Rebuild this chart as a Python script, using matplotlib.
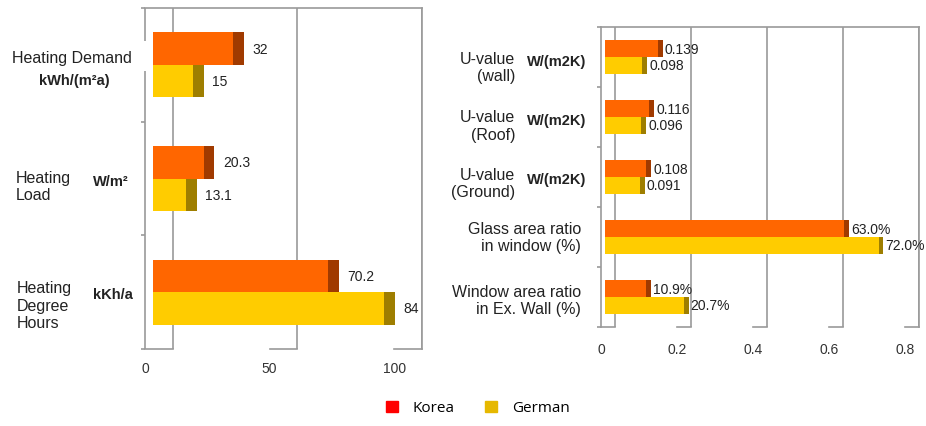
import matplotlib
matplotlib.use("Agg")
import matplotlib.pyplot as plt
from matplotlib.patches import Patch

# --- data -------------------------------------------------------------
left_names = ["Heating Demand", "Heating\nLoad", "Heating\nDegree\nHours"]
left_units = ["kWh/(m²a)", "W/m²", "kKh/a"]
korea_left = [32, 20.3, 70.2]
german_left = [16, 13.1, 92.7]          # bar lengths as drawn on the axis
korea_left_txt = ["32", "20.3", "70.2"]
german_left_txt = ["15", "13.1", "84"]  # labels as printed
left_ticks = [0, 50, 100]

right_names = ["U-value\n(wall)", "U-value\n(Roof)", "U-value\n(Ground)",
               "Glass area ratio\nin window (%)", "Window area ratio\nin Ex. Wall (%)"]
right_units = ["W/(m2K)", "W/(m2K)", "W/(m2K)", "", ""]
korea_right = [0.139, 0.116, 0.108, 0.630, 0.109]
german_right = [0.098, 0.096, 0.091, 0.720, 0.207]
korea_right_txt = ["0.139", "0.116", "0.108", "63.0%", "10.9%"]
german_right_txt = ["0.098", "0.096", "0.091", "72.0%", "20.7%"]
right_ticks = [0, 0.2, 0.4, 0.6, 0.8]

# --- style ------------------------------------------------------------
ORANGE = "#FF6600"
ORANGE_DARK = "#A03A00"
YELLOW = "#FFCC00"
YELLOW_DARK = "#9E7E00"
GRID = "#9a9a9a"

W, H = 926, 427
plt.rcParams['font.family'] = ['Liberation Sans', 'DejaVu Sans']
fig = plt.figure(figsize=(W / 100, H / 100), dpi=100)


def px_box(x0, y0, x1, y1):
    return [x0 / W, 1 - y1 / H, (x1 - x0) / W, (y1 - y0) / H]


def draw_panel(ax, korea, german, k_txt, g_txt, ticks, shift, start, cap,
               bar_h, lab_dx, pad):
    n = len(korea)
    ys = list(range(n))
    ax.set_xlim(0, ticks[-1] + shift)
    ax.set_ylim(n - 0.5, -0.5)

    # "3D" back grid lines + floor segments
    for t in ticks:
        ax.vlines(t + shift, -0.5, n - 0.5, color=GRID, lw=1.2, zorder=1)
        ax.plot([t, t + shift], [n - 0.5, n - 0.5], color=GRID, lw=1.2,
                clip_on=False, zorder=1)

    yk = [y - bar_h / 2 for y in ys]
    yg = [y + bar_h / 2 for y in ys]
    ax.barh(yk, korea, height=bar_h, left=start, color=ORANGE, zorder=3)
    ax.barh(yk, cap, height=bar_h, left=[start + v for v in korea],
            color=ORANGE_DARK, zorder=3)
    ax.barh(yg, german, height=bar_h, left=start, color=YELLOW, zorder=3)
    ax.barh(yg, cap, height=bar_h, left=[start + v for v in german],
            color=YELLOW_DARK, zorder=3)

    for y, v, t in zip(yk, korea, k_txt):
        ax.annotate(t, xy=(start + v + cap, y), xytext=(lab_dx, 0),
                    textcoords="offset points", va="center", fontsize=10,
                    color="#222222")
    for y, v, t in zip(yg, german, g_txt):
        ax.annotate(t, xy=(start + v + cap, y), xytext=(lab_dx, 0),
                    textcoords="offset points", va="center", fontsize=10,
                    color="#222222")

    ax.set_xticks(ticks)
    ax.set_xticklabels([f"{t:g}" for t in ticks])
    ax.tick_params(axis="x", length=0, pad=pad, labelsize=10,
                   labelcolor="#333333")
    ax.set_yticks([i - 0.5 for i in range(n + 1)])
    ax.set_yticklabels([])
    ax.tick_params(axis="y", length=3, color=GRID, width=1.2)
    ax.spines["bottom"].set_visible(False)
    for s in ["top", "right", "left"]:
        ax.spines[s].set_color(GRID)
        ax.spines[s].set_linewidth(1.2)


# left panel: 2.493 px per unit
ax1 = fig.add_axes(px_box(145, 9, 422, 350))
draw_panel(ax1, korea_left, german_left, korea_left_txt, german_left_txt,
           left_ticks, shift=11.2, start=3.2, cap=4.4, bar_h=0.286,
           lab_dx=6, pad=8.5)
# gap in the left edge behind the first label
ax1.spines["left"].set_visible(False)
ax1.vlines([0, 0], [-0.5, 0.05], [-0.21, 2.5], color=GRID, lw=1.2, zorder=1,
           clip_on=False)

# right panel: 380 px per unit
ax2 = fig.add_axes(px_box(601, 28, 919, 328))
draw_panel(ax2, korea_right, german_right, korea_right_txt, german_right_txt,
           right_ticks, shift=0.037, start=0.0105, cap=0.013, bar_h=0.278,
           lab_dx=1.5, pad=10.5)

# --- category labels --------------------------------------------------
name_fs, unit_fs = 11.5, 10.5
txt = "#222222"

fig.text(72 / W, 1 - 58 / H, left_names[0], ha="center", va="center",
         fontsize=name_fs, color=txt)
fig.text(74 / W, 1 - 81 / H, left_units[0], ha="center", va="center",
         fontsize=unit_fs, weight="bold", color=txt)
fig.text(16 / W, 1 - 187 / H, left_names[1], ha="left", va="center",
         fontsize=name_fs, color=txt, linespacing=1.15)
fig.text(93 / W, 1 - 182 / H, left_units[1], ha="left", va="center",
         fontsize=unit_fs, weight="bold", color=txt)
fig.text(17 / W, 1 - 306 / H, left_names[2], ha="left", va="center",
         fontsize=name_fs, color=txt, linespacing=1.2)
fig.text(93 / W, 1 - 295 / H, left_units[2], ha="left", va="center",
         fontsize=unit_fs, weight="bold", color=txt)

name_pos = [(515, 68), (515, 126.5), (515, 184), (581, 238), (581, 301)]
unit_pos = [(527, 62), (527, 121), (527, 180), None, None]
for name, unit, np_, up in zip(right_names, right_units, name_pos, unit_pos):
    fig.text(np_[0] / W, 1 - np_[1] / H, name, ha="right", va="center",
             fontsize=name_fs, color=txt, linespacing=1.2)
    if unit:
        fig.text(up[0] / W, 1 - up[1] / H, unit, ha="left", va="center",
                 fontsize=unit_fs, weight="bold", color=txt)

# --- legend -----------------------------------------------------------
handles = [Patch(color="#FF0000", label="Korea"),
           Patch(color="#E6B800", label="German")]
fig.legend(handles=handles, loc="center", bbox_to_anchor=(478 / W, 1 - 409 / H),
           ncol=2, frameon=False, handlelength=0.75, handleheight=0.75,
           handletextpad=1.0, columnspacing=2.0,
           prop={"family": "Open Sans", "size": 11})

fig.savefig("out.png", dpi=100, facecolor="white")
